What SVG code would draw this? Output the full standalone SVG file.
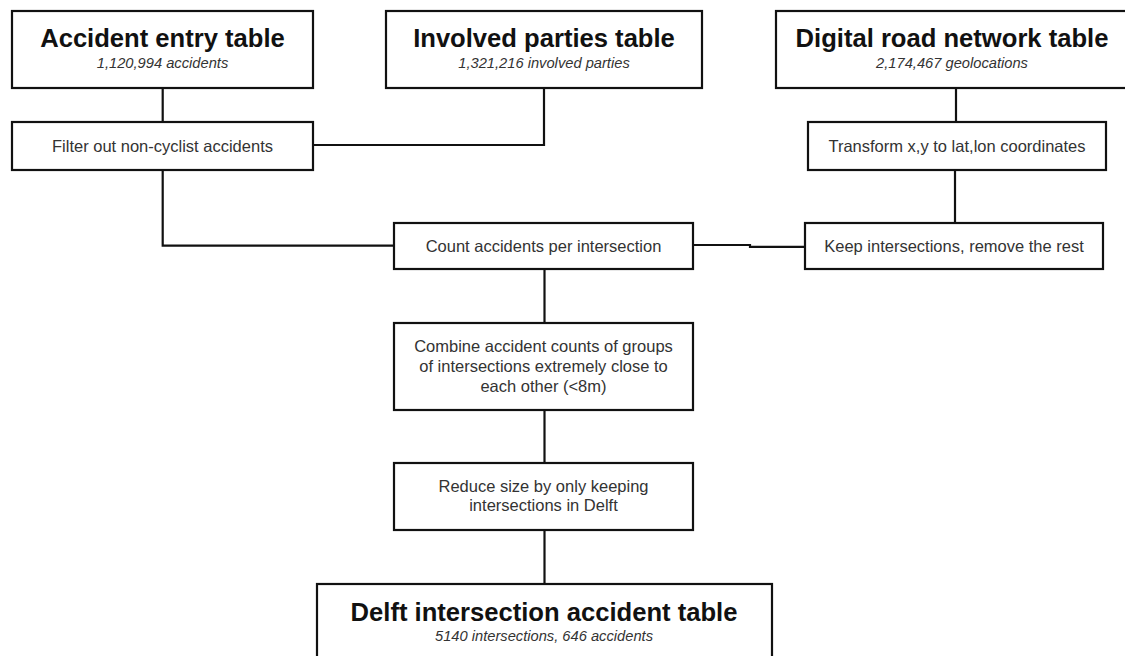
<svg xmlns="http://www.w3.org/2000/svg" width="1125" height="656" viewBox="0 0 1125 656">
<style>
.box{fill:#fff;stroke:#111;stroke-width:2.2}
.ttl{font-family:"Liberation Sans",Arial,sans-serif;font-weight:bold;font-size:25.6px;fill:#111;text-anchor:middle}
.sub{font-family:"Liberation Sans",Arial,sans-serif;font-style:italic;font-size:14.7px;fill:#333;text-anchor:middle}
.txt{font-family:"Liberation Sans",Arial,sans-serif;font-size:16.5px;fill:#333;text-anchor:middle}
.con{fill:none;stroke:#111;stroke-width:2.2}
</style>
<rect width="1125" height="656" fill="#fff"/>
<g id="connectors">
<path class="con" d="M162.7 88V122"/>
<path class="con" d="M313 145H544V88"/>
<path class="con" d="M956 88V122"/>
<path class="con" d="M162.7 170V245.7H394"/>
<path class="con" d="M955 170V223"/>
<path class="con" d="M693 245H750V246.8H805"/>
<path class="con" d="M544.5 269V323"/>
<path class="con" d="M544.5 410V463"/>
<path class="con" d="M544.5 530V584"/>
</g>
<g id="accident-entry">
<rect class="box" x="12" y="11" width="301" height="77"/>
<text class="ttl" x="162.5" y="47">Accident entry table</text>
<text class="sub" x="162.5" y="68">1,120,994 accidents</text>
</g>
<g id="involved-parties">
<rect class="box" x="386" y="11" width="316" height="77"/>
<text class="ttl" x="544" y="47">Involved parties table</text>
<text class="sub" x="544" y="68">1,321,216 involved parties</text>
</g>
<g id="digital-road">
<rect class="box" x="776" y="11" width="356" height="77"/>
<text class="ttl" x="952" y="47">Digital road network table</text>
<text class="sub" x="952" y="68">2,174,467 geolocations</text>
</g>
<g id="filter">
<rect class="box" x="12" y="122" width="301" height="48"/>
<text class="txt" x="162.5" y="152">Filter out non-cyclist accidents</text>
</g>
<g id="transform">
<rect class="box" x="808" y="122" width="298" height="48"/>
<text class="txt" x="957" y="152">Transform x,y to lat,lon coordinates</text>
</g>
<g id="count">
<rect class="box" x="394" y="223" width="299" height="46"/>
<text class="txt" x="543.5" y="252">Count accidents per intersection</text>
</g>
<g id="keep">
<rect class="box" x="805" y="223" width="298" height="46"/>
<text class="txt" x="954" y="252">Keep intersections, remove the rest</text>
</g>
<g id="combine">
<rect class="box" x="394" y="323" width="299" height="87"/>
<text class="txt" x="543.5" y="351.5">Combine accident counts of groups</text>
<text class="txt" x="543.5" y="371.5">of intersections extremely close to</text>
<text class="txt" x="543.5" y="391.5">each other (&lt;8m)</text>
</g>
<g id="reduce">
<rect class="box" x="394" y="463" width="299" height="67"/>
<text class="txt" x="543.5" y="491.5">Reduce size by only keeping</text>
<text class="txt" x="543.5" y="511">intersections in Delft</text>
</g>
<g id="delft">
<rect class="box" x="317" y="584" width="455" height="80"/>
<text class="ttl" x="544" y="620.5">Delft intersection accident table</text>
<text class="sub" x="544" y="640.5">5140 intersections, 646 accidents</text>
</g>
</svg>
